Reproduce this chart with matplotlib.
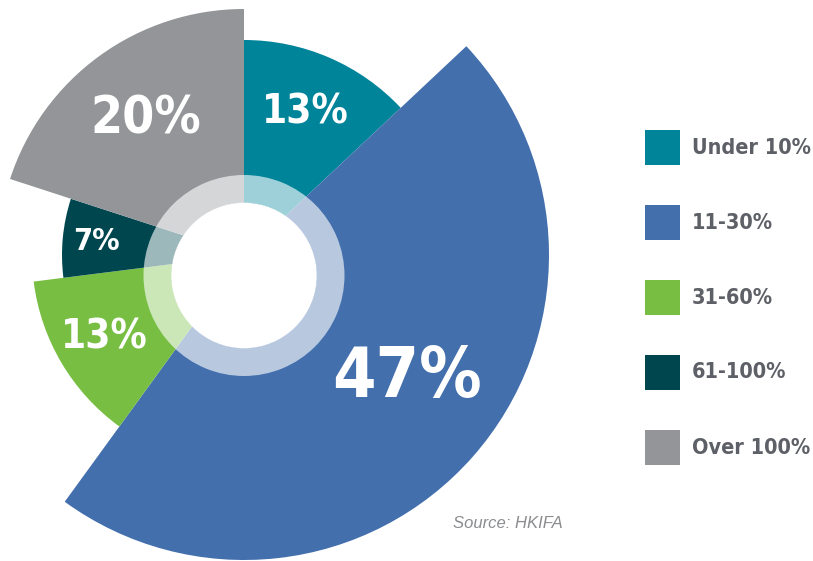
import numpy as np
import matplotlib.pyplot as plt
import matplotlib.patches as patches

# data
categories = ['Under 10%', '11-30%', '31-60%', '61-100%', 'Over 100%']
shares = [13, 47, 13, 7, 20]
labels = ['13%', '47%', '13%', '7%', '20%']
colors = ['#00849a', '#436fad', '#77be43', '#00464f', '#939598']

# look of each slice (outer radius in px, label font size, label radius)
radii = [215, 305, 212, 182, 246]
label_size = [29, 50, 29, 22, 37]
label_r = [155, 204, 162, 148, 167]
label_shift = [0, -4.5, 0, 0, 0]   # degrees, clockwise

font = ['DejaVu Sans']
stretch = 'condensed'

W, H = 813, 561
fig = plt.figure(figsize=(W / 100, H / 100), dpi=100)
ax = fig.add_axes([0, 0, 1, 1])
ax.set_xlim(0, W)
ax.set_ylim(0, H)
ax.set_aspect('equal')
ax.axis('off')

cx, cy = 244, H - 255          # apex of the slices
rx, ry = 244, H - 275.5        # centre of the ring

start = 0.0
for i, s in enumerate(shares):
    span = s / sum(shares) * 360
    end = start + span
    w = patches.Wedge((cx, cy), radii[i], 90 - end, 90 - start,
                      facecolor=colors[i], edgecolor='none', zorder=1)
    ax.add_patch(w)
    mid = np.radians(start + span / 2 + label_shift[i])
    ax.text(cx + label_r[i] * np.sin(mid), cy + label_r[i] * np.cos(mid),
            labels[i], color='white', fontsize=label_size[i],
            fontweight='bold', family=font, fontstretch=stretch,
            ha='center', va='center', zorder=4)
    start = end

# translucent ring and white hole
ring = patches.Wedge((rx, ry), 100.5, 0, 360, width=28,
                     facecolor='white', alpha=0.62, edgecolor='none', zorder=2)
ax.add_patch(ring)
ax.add_patch(patches.Circle((rx, ry), 72.8, facecolor='white',
                            edgecolor='none', zorder=3))

# legend
for i, name in enumerate(categories):
    yc = H - (147.5 + 75 * i)
    ax.add_patch(patches.Rectangle((645, yc - 17.5), 35, 35,
                                   facecolor=colors[i], edgecolor='none'))
    ax.text(692, yc, name, color='#5d6066', fontsize=15.5, fontweight='bold',
            family=font, fontstretch=stretch, ha='left', va='center')

ax.text(453, H - 524, 'Source: HKIFA', color='#8a8c8f', fontsize=12,
        style='italic', family=['Liberation Sans', 'DejaVu Sans'],
        ha='left', va='center')

fig.savefig('out.png', dpi=100, facecolor='white')
